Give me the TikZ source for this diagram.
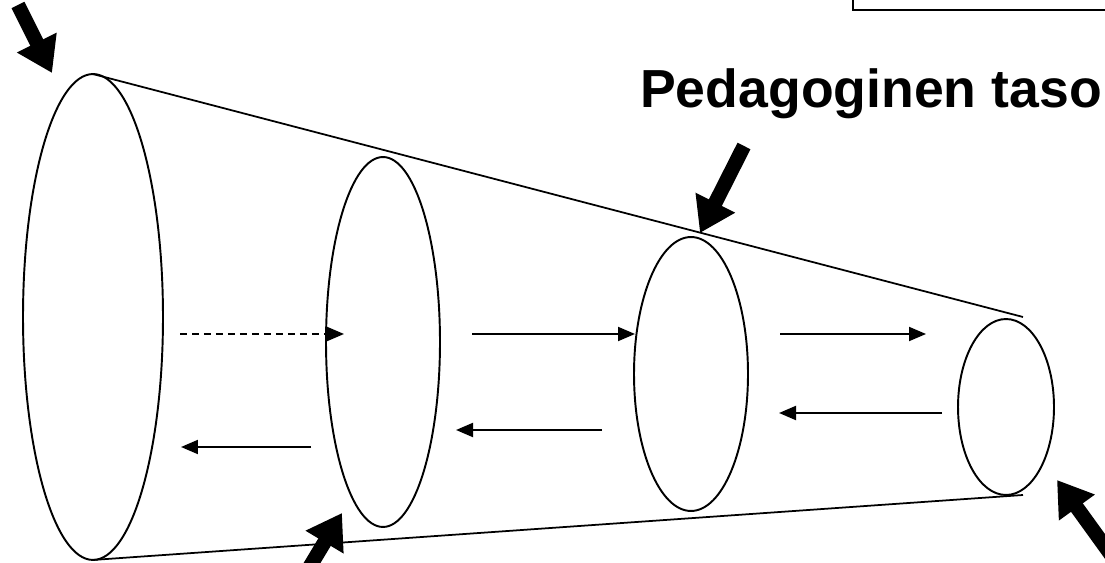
\documentclass[tikz,border=0pt]{standalone}
\usepackage{fontspec}
\setmainfont{Liberation Sans}
\usetikzlibrary{arrows.meta,shapes.geometric}
\begin{document}
\begin{tikzpicture}[x=0.02cm,y=-0.02cm,
  ring/.style={draw, ellipse, line width=1.1pt, inner sep=0pt, outer sep=0pt},
  cone/.style={line width=1pt},
  flow/.style={line width=1.1pt, -{Triangle[length=0.34cm,width=0.28cm]}},
  bigarrow/.style={line width=0.29cm, -{Triangle[length=0.68cm,width=0.84cm]}},
  label/.style={font=\fontsize{30.5}{36}\selectfont\bfseries, anchor=base, inner sep=0pt}]
\useasboundingbox (0,0) rectangle (1105,563);
\clip (0,0) rectangle (1105,563);
% rings
\node[ring, minimum width=2.8cm,  minimum height=9.72cm] (e1) at (93,317) {};
\node[ring, minimum width=2.28cm, minimum height=7.4cm]  (e2) at (383,342) {};
\node[ring, minimum width=2.28cm, minimum height=5.48cm] (e3) at (691,374) {};
\node[ring, minimum width=1.92cm, minimum height=3.52cm] (e4) at (1006,407) {};
% cone outline
\coordinate (ct) at (1023,317);
\coordinate (cb) at (1023,495);
\draw[cone] (e1.north) -- (ct);
\draw[cone] (e1.south) -- (cb);
% flow arrows
\coordinate (d1) at (180,334); \coordinate (d2) at (344,334);
\coordinate (b1) at (311,447); \coordinate (b2) at (181,447);
\coordinate (f1) at (472,334); \coordinate (f2) at (635,334);
\coordinate (g1) at (602,430); \coordinate (g2) at (456,430);
\coordinate (h1) at (780,334); \coordinate (h2) at (926,334);
\coordinate (k1) at (942,413); \coordinate (k2) at (779,413);
\draw[flow, dash pattern=on 0.14cm off 0.1cm] (d1) -- (d2);
\draw[flow] (b1) -- (b2);
\draw[flow] (f1) -- (f2);
\draw[flow] (g1) -- (g2);
\draw[flow] (h1) -- (h2);
\draw[flow] (k1) -- (k2);
% label
\node[label] (lab) at (871,108) {Pedagoginen taso};
% big arrows
\coordinate (a1s) at (18,5);    \coordinate (a1t) at (52,73);
\coordinate (a2s) at (744,146); \coordinate (a2t) at (700,233);
\coordinate (a3s) at (303,578); \coordinate (a3t) at (342,513);
\coordinate (a4s) at (1122,570);\coordinate (a4t) at (1057,480);
\draw[bigarrow] (a1s) -- (a1t);
\draw[bigarrow] (a2s) -- (a2t);
\draw[bigarrow] (a3s) -- (a3t);
\draw[bigarrow] (a4s) -- (a4t);
% box edge at top right
\coordinate (bx1) at (853,0); \coordinate (bx2) at (853,10); \coordinate (bx3) at (1105,10);
\draw[line width=1.1pt] (bx1) -- (bx2) -- (bx3);
\end{tikzpicture}
\end{document}
